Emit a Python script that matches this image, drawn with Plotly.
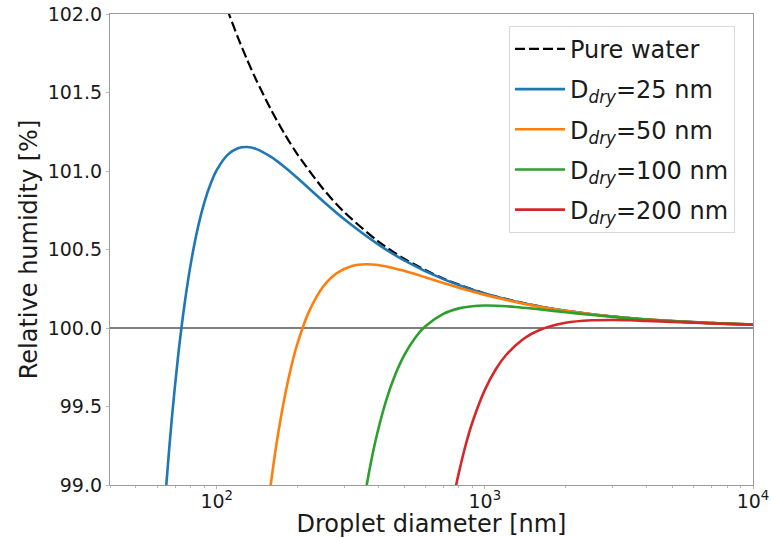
import plotly.graph_objects as go

# Pure water (Kelvin) curve
water_d = [105, 110, 120, 130, 140, 160, 180, 200, 250, 300, 400, 500, 700, 1000, 1500, 2000, 3000, 5000, 10000]
water_rh = [102.117, 102.020, 101.850, 101.707, 101.584, 101.385, 101.230, 101.106, 100.884, 100.736, 100.552,
            100.441, 100.315, 100.220, 100.147, 100.110, 100.073, 100.044, 100.022]

# D_dry = 25 nm
d25 = [63, 65, 68, 72, 76, 80, 85, 90, 95, 100, 110, 120, 130, 140, 160, 180, 200, 250, 300, 400, 500, 700,
       1000, 1500, 2000, 3000, 5000, 10000]
rh25 = [98.70, 99.020, 99.421, 99.841, 100.161, 100.407, 100.636, 100.802, 100.920, 101.005, 101.104, 101.145,
        101.153, 101.141, 101.088, 101.022, 100.955, 100.806, 100.691, 100.533, 100.431, 100.311, 100.219,
        100.146, 100.110, 100.073, 100.044, 100.022]

# D_dry = 50 nm
d50 = [150, 155, 160, 170, 180, 190, 200, 220, 250, 280, 320, 360, 400, 450, 500, 600, 700, 850, 1000, 1500,
       2000, 3000, 5000, 10000]
rh50 = [98.632, 98.848, 99.036, 99.342, 99.577, 99.759, 99.900, 100.098, 100.266, 100.349, 100.395, 100.406,
        100.401, 100.384, 100.364, 100.323, 100.287, 100.243, 100.211, 100.144, 100.109, 100.073, 100.044, 100.022]

# D_dry = 100 nm
d100 = [350, 360, 380, 400, 430, 460, 500, 550, 600, 700, 800, 900, 1000, 1100, 1300, 1500, 1800, 2200, 3000,
        4000, 6000, 10000]
rh100 = [98.844, 98.970, 99.183, 99.352, 99.547, 99.690, 99.826, 99.938, 100.011, 100.090, 100.125, 100.139,
         100.143, 100.142, 100.134, 100.124, 100.109, 100.093, 100.071, 100.054, 100.036, 100.022]

# D_dry = 200 nm
d200 = [700, 720, 750, 780, 800, 850, 900, 1000, 1100, 1200, 1400, 1600, 2000, 2500, 3000, 3500, 4000, 5000,
        6500, 8000, 10000]
rh200 = [98.534, 98.669, 98.844, 98.993, 99.079, 99.261, 99.403, 99.606, 99.739, 99.828, 99.933, 99.9875,
         100.033, 100.049, 100.051, 100.049, 100.045, 100.039, 100.032, 100.026, 100.021]

labels = ["Pure water", "D<sub><i>dry</i></sub>=25 nm", "D<sub><i>dry</i></sub>=50 nm",
          "D<sub><i>dry</i></sub>=100 nm", "D<sub><i>dry</i></sub>=200 nm"]
colors = ["black", "#1f77b4", "#ff7f0e", "#2ca02c", "#d62728"]

x_tickvals = [100, 1000, 10000]
x_ticktext = ["10<sup>2</sup>", "10<sup>3</sup>", "10<sup>4</sup>"]
x_minor = [40, 50, 60, 70, 80, 90, 200, 300, 400, 500, 600, 700, 800, 900,
           2000, 3000, 4000, 5000, 6000, 7000, 8000, 9000]
y_ticks = [99.0, 99.5, 100.0, 100.5, 101.0, 101.5, 102.0]

fig = go.Figure()

# reference line at 100 %
fig.add_shape(type="line", xref="paper", x0=0, x1=1, yref="y", y0=100, y1=100,
              line=dict(color="#555555", width=1.5), layer="below")

series = [(water_d, water_rh), (d25, rh25), (d50, rh50), (d100, rh100), (d200, rh200)]
for i, (xs, ys) in enumerate(series):
    fig.add_trace(go.Scatter(
        x=xs, y=ys, mode="lines", name=labels[i], legendgroup=f"g{i}",
        line=dict(color=colors[i], width=2.6 if i else 2.2, dash="10px,4px" if i == 0 else "solid",
                  shape="spline", smoothing=0.8),
        cliponaxis=True,
    ))

axis_col = "#9a9a9a"
tick_col = "#b8b8b8"
fig.update_layout(
    width=771, height=538,
    margin=dict(l=110, r=18, t=14, b=53, autoexpand=False),
    paper_bgcolor="white", plot_bgcolor="white",
    font=dict(family="DejaVu Sans", size=19, color="#1a1a1a"),
    showlegend=True,
    legend=dict(x=0.972, y=0.975, xanchor="right", yanchor="top",
                bgcolor="rgba(255,255,255,0.85)", bordercolor="#d8d8d8", borderwidth=1,
                font=dict(size=24, family="DejaVu Sans", color="#1a1a1a"),
                itemwidth=50, tracegroupgap=6),
)
fig.update_xaxes(
    type="log", range=[1.60206, 4.0], automargin=False,
    tickmode="array", tickvals=x_tickvals, ticktext=x_ticktext,
    ticks="outside", ticklen=3, tickwidth=1, tickcolor=tick_col,
    ticklabelstandoff=-4,
    minor=dict(tickmode="array", tickvals=x_minor, ticks="outside", ticklen=2, tickwidth=1, tickcolor=tick_col),
    showline=True, linecolor=axis_col, linewidth=1.2, mirror=True,
    showgrid=False, zeroline=False,
    title=dict(text="Droplet diameter [nm]", font=dict(size=24), standoff=10),
    tickfont=dict(size=19),
)
fig.update_yaxes(
    range=[99.0, 102.0], automargin=False,
    tickmode="array", tickvals=y_ticks, tickformat=".1f",
    ticks="outside", ticklen=3, tickwidth=1, tickcolor=tick_col,
    showline=True, linecolor=axis_col, linewidth=1.2, mirror=True,
    showgrid=False, zeroline=False,
    title=dict(text="Relative humidity [%]", font=dict(size=24), standoff=3),
    tickfont=dict(size=19),
)

fig.write_html("out.html")
